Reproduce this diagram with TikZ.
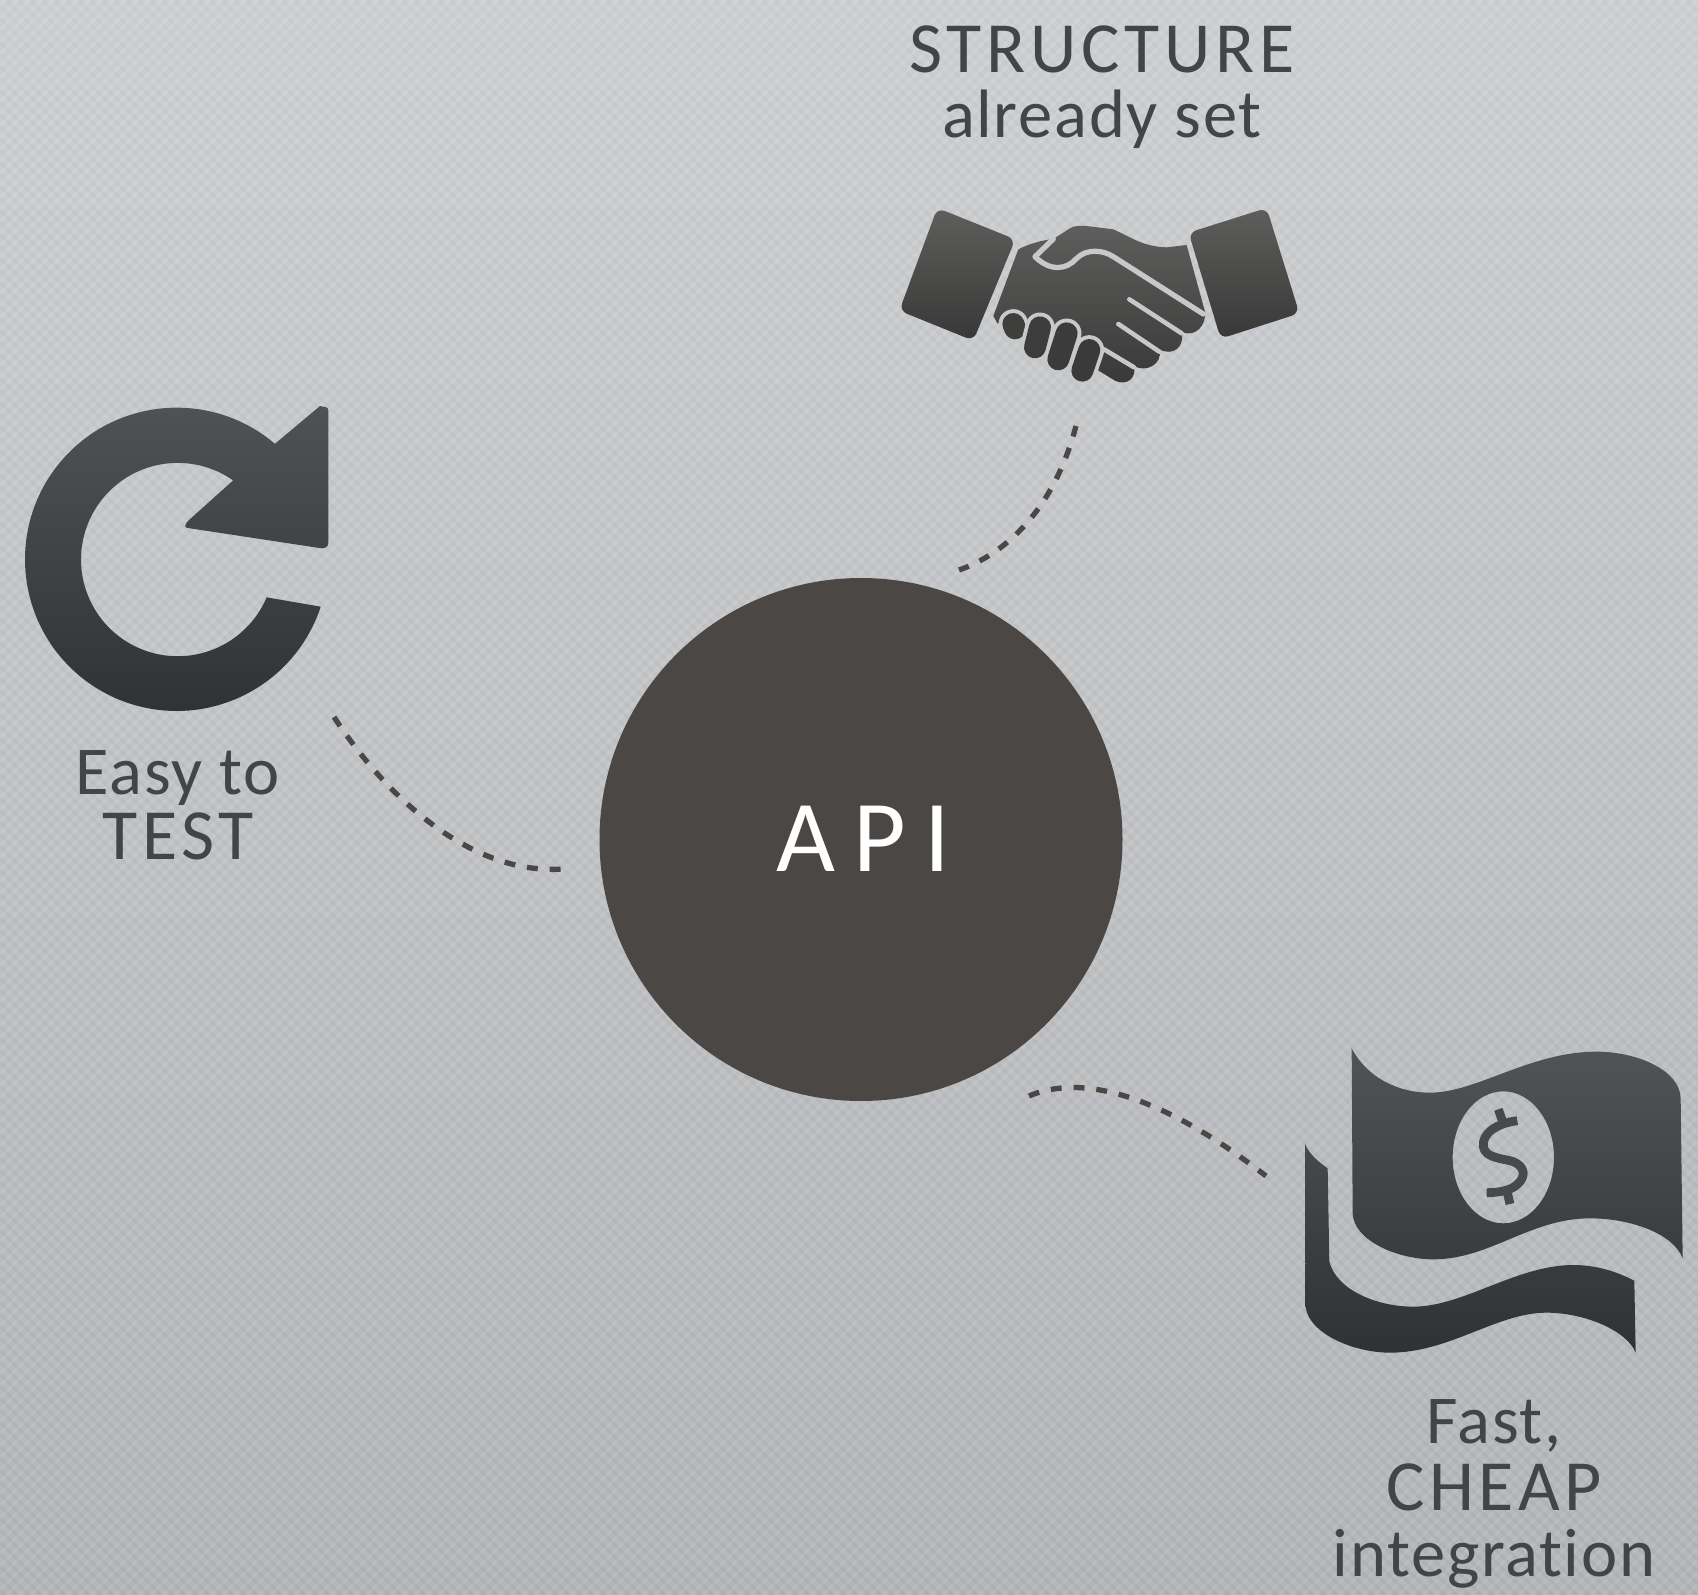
\documentclass[tikz,border=0pt]{standalone}
\usepackage{fontspec}
\setmainfont{Carlito}
\newfontfamily\lowerfont[LetterSpace=2.5,Ligatures=NoCommon]{Carlito}
\newfontfamily\upperfont[LetterSpace=6.5,Ligatures=NoCommon]{Carlito}
\newfontfamily\apifont[LetterSpace=18]{Carlito}
\newcommand{\lowerline}[1]{{\lowerfont\fontsize{39}{38}\selectfont #1}}
\newcommand{\upperline}[1]{{\upperfont\fontsize{41}{38}\selectfont #1}}
\definecolor{bgtop}{HTML}{CDCFD1}
\definecolor{bgbottom}{HTML}{B2B4B7}
\definecolor{gapcolor}{HTML}{C6C8CA}
\definecolor{apicolor}{HTML}{4B4744}
\definecolor{textcolor}{HTML}{434445}
\definecolor{icontop}{HTML}{505456}
\definecolor{iconbottom}{HTML}{2E3235}
\definecolor{handtop}{HTML}{5E5E5C}
\definecolor{handbottom}{HTML}{383838}
\begin{document}
\begin{tikzpicture}[x=0.02cm, y=0.02cm, yscale=-1, line cap=round, line join=round,
	label/.style={font=\fontsize{39}{38}\selectfont, text=textcolor, align=center, inner sep=0pt},
	dotted link/.style={draw=apicolor, line width=3pt, line cap=butt, dash pattern=on 6.2pt off 6.8pt},
	dark icon/.style={top color=icontop, bottom color=iconbottom, draw=none},
	hand icon/.style={top color=handtop, bottom color=handbottom, draw=none},
	finger gap/.style={draw=gapcolor, line width=2.6pt, line cap=round},
	dollar/.style={draw=icontop!70!iconbottom, line width=5pt, line cap=butt},
	zoomed/.style={shift={#1}, scale=1/3}]
	\useasboundingbox (0,0) rectangle (1698,1595);
	\shade[top color=bgtop, bottom color=bgbottom] (0,0) rectangle (1698,1595);
	\foreach \s in {-1596,-1584,...,1698}
		\draw[white, opacity=0.1, line width=3pt, line cap=butt] (\s,0)--(\s+1595,1595);
	\foreach \s in {0,12,...,3300}
		\draw[black, opacity=0.025, line width=3pt, line cap=butt] (\s,0)--(\s-1595,1595);
	% centre
	\node[circle, fill=apicolor, minimum size=523*0.02cm, inner sep=0pt] (api) at (861,839.5) {};
	\node[font=\apifont\fontsize{58}{58}\selectfont, text=white, inner sep=0pt] (apitext) at (863,839) {API};
	% labels
	\node[label] (structure) at (1102,87) {\upperline{STRUCTURE}\\[-1pt]\lowerline{already set}};
	\node[label] (test) at (178,805) {\lowerline{Easy to}\\[-1pt]\upperline{TEST}};
	\node[label] (cheap) at (1494,1494) {\lowerline{Fast,}\\\upperline{CHEAP}\\\lowerline{integration}};
	% links
	\coordinate (hand end) at (1076,426);
	\coordinate (api top) at (959,570);
	\coordinate (arrow end) at (334,717);
	\coordinate (api left) at (563,869);
	\coordinate (api low) at (1029,1096);
	\coordinate (money end) at (1266,1176);
	\draw[dotted link] (hand end) .. controls (1055,505) and (1010,552) .. (api top);
	\draw[dotted link] (arrow end) .. controls (395,810) and (480,875) .. (api left);
	\draw[dotted link] (api low) .. controls (1095,1068) and (1185,1113) .. (money end);
	% refresh
	\begin{scope}[zoomed={(0,390)}]
		\shade[dark icon] (530,508)++(-49.6:455) arc[start angle=-49.6, end angle=-341.8, radius=455]
			-- (800,622) arc[start angle=-337, end angle=-55, radius=290]
			-- (565,392) to[out=135,in=180,looseness=2] (570,415) -- (965,475) to[out=0,in=90] (985,460)
			-- (985,60) to[out=-90,in=20] (960,48) -- cycle;
	\end{scope}
	% handshake
	\begin{scope}[zoomed={(880,190)}]
		\shade[hand icon, rounded corners=4.5pt] (172,54)--(406,148)--(280,452)--(58,362)--cycle;
		\shade[hand icon, rounded corners=4.5pt] (1160,54)--(926,128)--(1022,446)--(1258,370)--cycle;
		\shade[hand icon] (340,378) -- (415,178) .. controls (450,160) and (490,150) .. (520,147)
			-- (570,115) .. controls (585,105) and (600,108) .. (620,108) -- (700,118)
			.. controls (760,145) and (790,170) .. (860,172) -- (920,165) -- (975,365)
			.. controls (980,405) and (945,445) .. (905,425) .. controls (915,470) and (880,500) .. (838,478)
			.. controls (850,520) and (800,550) .. (762,528) .. controls (770,560) and (745,590) .. (705,572)
			-- (620,520) -- (480,430) -- (400,405) -- (352,400) -- cycle;
		\draw[gapcolor, line width=3pt] (520,147) -- (465,200) .. controls (510,245) and (560,240) .. (590,205)
			.. controls (620,175) and (670,180) .. (700,200) -- (970,372);
		\draw[finger gap] (748,328)--(905,430);
		\draw[finger gap] (715,402)--(838,485);
		\draw[finger gap] (672,478)--(762,532);
		\foreach \xa/\ya/\xb/\yb/\fcol in {400/402/405/415/handbottom!85!handtop, 480/412/465/472/handbottom!88!handtop, 560/430/535/508/handbottom!92!handtop, 628/480/607/542/handbottom!96!handtop}{
			\draw[gapcolor, line width=12.5pt*1.35] (\xa,\ya)--(\xb,\yb);
			\draw[\fcol, line width=12.5pt] (\xa,\ya)--(\xb,\yb);
		}
	\end{scope}
	% money
	\begin{scope}[zoomed={(1290,1030)}]
		\shade[dark icon, even odd rule] (185,55) .. controls (230,140) and (320,188) .. (420,188)
			.. controls (560,188) and (720,65) .. (920,65) .. controls (1040,65) and (1170,120) .. (1172,205)
			-- (1178,685) .. controls (1150,610) and (1020,565) .. (900,565)
			.. controls (720,565) and (600,688) .. (430,688) .. controls (320,688) and (190,630) .. (188,550) -- cycle
			(640,382) ellipse[x radius=152, y radius=198]
			(45,342) .. controls (60,375) and (85,395) .. (113,415) -- (118,695)
			.. controls (140,780) and (260,830) .. (370,830) .. controls (520,830) and (680,705) .. (850,705)
			.. controls (920,705) and (980,725) .. (1033,752) -- (1037,968)
			.. controls (1010,900) and (880,848) .. (770,848) .. controls (620,848) and (480,968) .. (300,968)
			.. controls (190,968) and (55,910) .. (47,830) -- cycle;
		\draw[dollar] (682,272) .. controls (620,280) and (575,310) .. (580,350)
			.. controls (585,385) and (640,385) .. (670,395) .. controls (705,410) and (710,440) .. (680,465)
			.. controls (660,482) and (625,488) .. (590,488);
		\draw[dollar] (625,238)--(637,272) (652,488)--(660,522);
	\end{scope}
\end{tikzpicture}
\end{document}
